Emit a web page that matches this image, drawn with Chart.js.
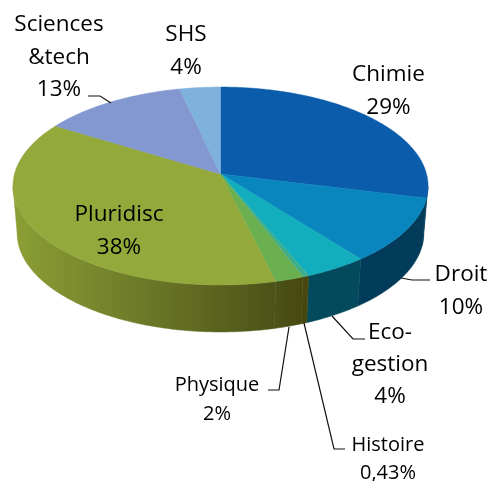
<!DOCTYPE html>
<html>
<head>
<meta charset="utf-8">
<script src="https://cdn.jsdelivr.net/npm/chart.js@4"></script>
<style>
  html, body { margin: 0; padding: 0; background: #fff; }
  canvas { display: block; }
</style>
</head>
<body>
<canvas id="pie" width="489" height="481"></canvas>
<script>
const categories = ["Chimie", "Droit", "Eco-gestion", "Histoire", "Physique", "Pluridisc", "Sciences &tech", "SHS"];
const sliceValues = [29.2, 10.7, 4.4, 0.43, 2, 38, 12.8, 3.6];
const percentLabels = ["29%", "10%", "4%", "0,43%", "2%", "38%", "13%", "4%"];

const topColors = ["#0b5cab", "#0a86bf", "#12aebd", "#3fae8e", "#6ab050", "#93a93c", "#8398d0", "#7fb1dd"];
const sideDark = ["#043a58", "#033c5a", "#024a5c", "#464810", "#464810", "#4c5218", "#5a6a96", "#56799a"];
const sideLight = ["#043a58", "#033c5a", "#024a5c", "#464810", "#4c5218", "#8c9f36", "#6a7cb0", "#6a92b8"];

// pie projection, the top face is a tilted disc seen in perspective
const cx = 220.5, cy = 174, rx = 206, ry = 97.5, persp = 0.1212, depth = 47, baseShrink = 0.98;

function project(a, r) {
  const u = Math.cos(a) * r, v = Math.sin(a) * r;
  const s = 1 / (1 - persp * v);
  return [cx + rx * u * s, cy + ry * v * s];
}

function rimPath(ctx, a0, a1, dy, first) {
  const k = dy ? baseShrink : 1;
  const steps = Math.max(2, Math.ceil(Math.abs(a1 - a0) / 0.01));
  for (let i = 0; i <= steps; i++) {
    const p = project(a0 + (a1 - a0) * i / steps, 1);
    const x = cx + (p[0] - cx) * k;
    if (i === 0 && first) ctx.moveTo(x, p[1] + dy);
    else ctx.lineTo(x, p[1] + dy);
  }
}

const pie3d = {
  id: "pie3d",
  beforeDatasetsDraw(chart) {
    const ctx = chart.ctx;
    const arcs = chart.getDatasetMeta(0).data;
    const tan = Math.asin(persp);

    // side wall, only the front part shows
    arcs.forEach((arc, i) => {
      const a0 = Math.max(arc.startAngle, tan), a1 = Math.min(arc.endAngle, Math.PI - tan);
      if (a1 <= a0) return;
      const p0 = project(a0, 1), p1 = project(a1, 1);
      const grad = ctx.createLinearGradient(p0[0], 0, p1[0], 0);
      grad.addColorStop(0, sideDark[i]);
      grad.addColorStop(1, sideLight[i]);
      ctx.beginPath();
      rimPath(ctx, a0, a1, 0, true);
      rimPath(ctx, a1, a0, depth, false);
      ctx.closePath();
      ctx.fillStyle = grad;
      ctx.strokeStyle = grad;
      ctx.lineWidth = 0.5;
      ctx.fill();
      ctx.stroke();
    });

    // top face
    arcs.forEach((arc, i) => {
      const c = project(0, 0);
      ctx.beginPath();
      ctx.moveTo(c[0], c[1]);
      rimPath(ctx, arc.startAngle, arc.endAngle, 0, false);
      ctx.closePath();
      ctx.fillStyle = topColors[i];
      ctx.strokeStyle = topColors[i];
      ctx.lineWidth = 0.5;
      ctx.fill();
      ctx.stroke();
    });
    return false;
  },
  afterDraw(chart) {
    const ctx = chart.ctx;
    ctx.save();
    ctx.strokeStyle = "#111";
    ctx.lineWidth = 1.2;
    leaders.forEach(l => {
      ctx.beginPath();
      l.forEach((p, i) => i ? ctx.lineTo(p[0], p[1]) : ctx.moveTo(p[0], p[1]));
      ctx.stroke();
    });
    ctx.fillStyle = "#000";
    ctx.textAlign = "center";
    ctx.textBaseline = "alphabetic";
    labelBoxes.forEach(b => {
      ctx.font = b.size + "px 'Open Sans'";
      b.lines.forEach((t, i) => ctx.fillText(t, b.x, b.y + i * b.gap));
    });
    ctx.restore();
  }
};

const leaders = [
  [[88, 96], [100, 96], [111, 103]],
  [[401, 278], [412, 280], [430, 280]],
  [[332, 316], [353, 339], [365, 339]],
  [[304, 323], [334, 449], [345, 449]],
  [[289, 327], [279, 390], [268, 390]]
];

const labelBoxes = [
  { lines: [categories[0], percentLabels[0]], x: 388.5, y: 81, gap: 33, size: 22.5 },
  { lines: [categories[1], percentLabels[1]], x: 461, y: 281, gap: 33, size: 22.5 },
  { lines: ["Eco-", "gestion", percentLabels[2]], x: 390, y: 339, gap: 32, size: 22.5 },
  { lines: [categories[3], percentLabels[3]], x: 388, y: 451, gap: 28, size: 20 },
  { lines: [categories[4], percentLabels[4]], x: 217, y: 391, gap: 29, size: 20 },
  { lines: [categories[5], percentLabels[5]], x: 119, y: 221, gap: 33, size: 22.5 },
  { lines: ["Sciences", "&tech", percentLabels[6]], x: 59, y: 31, gap: 32.5, size: 22.5 },
  { lines: [categories[7], percentLabels[7]], x: 186, y: 41, gap: 33, size: 22.5 }
];

new Chart(document.getElementById("pie"), {
  type: "pie",
  data: {
    labels: categories,
    datasets: [{ data: sliceValues, backgroundColor: topColors, borderWidth: 0 }]
  },
  options: {
    responsive: false,
    animation: false,
    plugins: { legend: { display: false }, tooltip: { enabled: false } }
  },
  plugins: [pie3d]
});
</script>
</body>
</html>
